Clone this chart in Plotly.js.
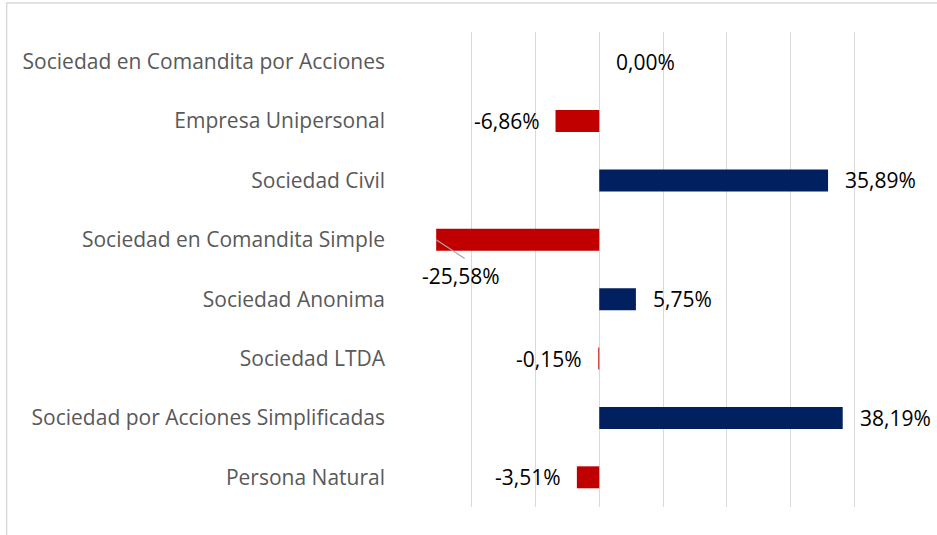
<!DOCTYPE html>
<html>
<head>
<meta charset="utf-8">
<script src="https://cdn.plot.ly/plotly-3.0.1.min.js"></script>
<style>
  html, body { margin:0; padding:0; background:#fff; }
  #chart { width:937px; height:535px; }
</style>
</head>
<body>
<div id="chart"></div>
<script>
// categories top to bottom, as in the picture
var categorias = [
  "Sociedad en Comandita por Acciones",
  "Empresa Unipersonal",
  "Sociedad Civil",
  "Sociedad en Comandita Simple",
  "Sociedad Anonima",
  "Sociedad LTDA",
  "Sociedad por Acciones Simplificadas",
  "Persona Natural"
];
var variacion = [0.00, -6.86, 35.89, -25.58, 5.75, -0.15, 38.19, -3.51];
var etiquetas = ["0,00%", "-6,86%", "35,89%", "-25,58%", "5,75%", "-0,15%", "38,19%", "-3,51%"];

var rojo = "#C00000", azul = "#002060";
var colores = variacion.map(function(v){ return v < 0 ? rojo : azul; });
var fuente = "'Open Sans', 'Noto Sans', sans-serif";

var trace = {
  type: "bar",
  orientation: "h",
  y: categorias,
  x: variacion,
  marker: { color: colores },
  hoverinfo: "skip"
};

// value labels placed like the Excel data labels
var notas = [];
variacion.forEach(function(v, i) {
  var neg = v < 0;
  if (i === 3) {
    // label moved under the bar, with a grey leader line
    notas.push({
      x: v, y: categorias[i], xref: "x", yref: "y", text: " ",
      showarrow: true, arrowhead: 0, arrowwidth: 1.2, arrowcolor: "#a6a6a6",
      ax: 29, ay: 19, borderpad: 0, font: { size: 1 }
    });
    notas.push({
      x: v, y: categorias[i], xref: "x", yref: "y", text: etiquetas[i],
      showarrow: false, xanchor: "center", xshift: 25, yshift: -36,
      font: { family: fuente, size: 21, color: "#000" }
    });
    return;
  }
  notas.push({
    x: v, y: categorias[i], xref: "x", yref: "y",
    text: etiquetas[i], showarrow: false,
    xanchor: neg ? "right" : "left",
    xshift: neg ? -14 : 15,
    font: { family: fuente, size: 21, color: "#000" }
  });
});

var layout = {
  width: 937, height: 535,
  margin: { l: 408, r: 19, t: 32, b: 28 },
  paper_bgcolor: "#fff", plot_bgcolor: "#fff",
  showlegend: false,
  bargap: 0.63,
  font: { family: fuente },
  xaxis: {
    range: [-30, 50], dtick: 10, tick0: 0,
    showgrid: true, gridcolor: "#d9d9d9", gridwidth: 1,
    zeroline: false, showticklabels: false, showline: false, fixedrange: true
  },
  yaxis: {
    autorange: "reversed",
    showgrid: false, zeroline: false, showline: false,
    ticks: "", ticklabelstandoff: 22,
    tickfont: { family: fuente, size: 21, color: "#595959" },
    fixedrange: true
  },
  annotations: notas,
  shapes: [{
    type: "rect", xref: "paper", yref: "paper", layer: "below",
    x0: -0.787, x1: 1.2, y0: -0.2, y1: 1.061,
    line: { color: "#d9d9d9", width: 1.5 }, fillcolor: "rgba(0,0,0,0)"
  }]
};

Plotly.newPlot("chart", [trace], layout, { displayModeBar: false, staticPlot: true });
</script>
</body>
</html>
